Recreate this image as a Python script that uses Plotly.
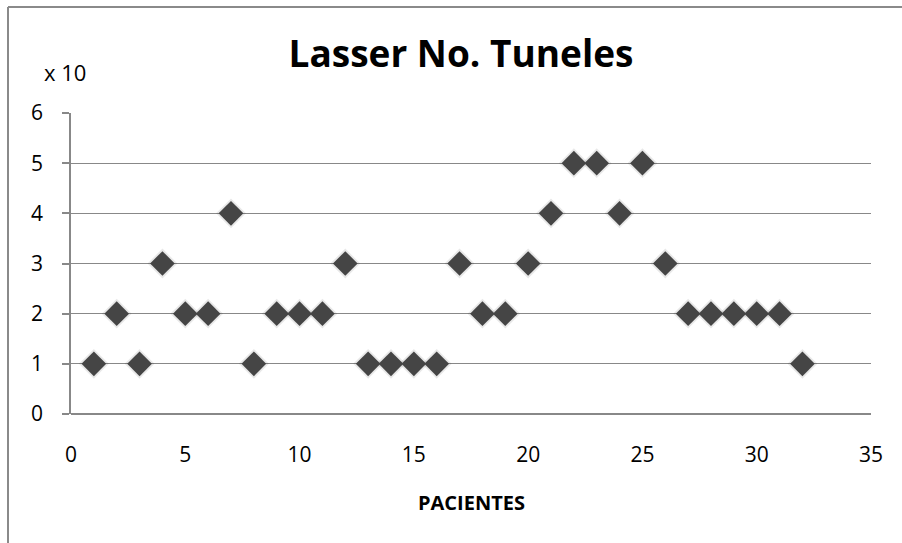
import plotly.graph_objects as go

pacientes = list(range(1, 33))
tuneles = [1, 2, 1, 3, 2, 2, 4, 1, 2, 2, 2, 3, 1, 1, 1, 1,
           3, 2, 2, 3, 4, 5, 5, 4, 5, 3, 2, 2, 2, 2, 2, 1]
x_ticks = [0, 5, 10, 15, 20, 25, 30, 35]
y_ticks = [0, 1, 2, 3, 4, 5, 6]

font_family = "'Open Sans', sans-serif"

fig = go.Figure()
# soft shadow
fig.add_trace(go.Scatter(
    x=pacientes, y=tuneles, mode="markers",
    marker=dict(symbol="diamond", size=23, color="rgba(0,0,0,0.09)", line=dict(width=0)),
    hoverinfo="skip", showlegend=False))
fig.add_trace(go.Scatter(
    x=pacientes, y=tuneles, mode="markers",
    marker=dict(symbol="diamond", size=19, color="#454545", line=dict(width=0)),
    showlegend=False))

W, H = 902, 543
ml, mr, mt, mb = 71, 31, 113, 129
pw, ph = W - ml - mr, H - mt - mb

def px(xp):
    return (xp - ml) / pw

def py(yp):
    return 1 - (yp - mt) / ph

fig.update_layout(
    width=W, height=H,
    margin=dict(l=ml, r=mr, t=mt, b=mb),
    paper_bgcolor="white", plot_bgcolor="white",
    font=dict(family=font_family, size=21, color="#000000"),
    showlegend=False,
    title=dict(text="<b>Lasser No. Tuneles</b>", x=px(461), xref="paper", xanchor="center",
               y=1 - 54 / H, yanchor="middle",
               font=dict(family=font_family, size=37, color="#000000")),
    xaxis=dict(range=[0, 35], tickvals=x_ticks, showgrid=False, zeroline=False,
               showline=False, ticks="", tickfont=dict(size=21), ticklabelstandoff=26),
    yaxis=dict(range=[0, 6], tickvals=y_ticks, showgrid=True, gridcolor="#888888", gridwidth=1,
               zeroline=False, showline=True, linecolor="#888888", linewidth=1.5,
               ticks="outside", ticklen=7, tickcolor="#888888", tickwidth=1.5,
               tickfont=dict(size=21), ticklabelstandoff=15),
    shapes=[
        dict(type="line", xref="paper", yref="paper", x0=0, x1=1, y0=0, y1=0,
             line=dict(color="#888888", width=2)),
        dict(type="line", xref="paper", yref="paper",
             x0=px(8), x1=px(902), y0=py(7), y1=py(7),
             line=dict(color="#8a8a8a", width=2), layer="above"),
        dict(type="line", xref="paper", yref="paper",
             x0=px(8), x1=px(8), y0=py(7), y1=py(543),
             line=dict(color="#8a8a8a", width=2), layer="above"),
    ],
    annotations=[
        dict(text="x 10", xref="paper", yref="paper", x=px(65), y=py(72),
             xanchor="center", yanchor="middle", showarrow=False,
             font=dict(family=font_family, size=22, color="#000000")),
        dict(text="<b>PACIENTES</b>", xref="paper", yref="paper", x=px(471), y=py(502),
             xanchor="center", yanchor="middle", showarrow=False,
             font=dict(family=font_family, size=20, color="#000000")),
    ],
)

fig.write_html("out.html")
